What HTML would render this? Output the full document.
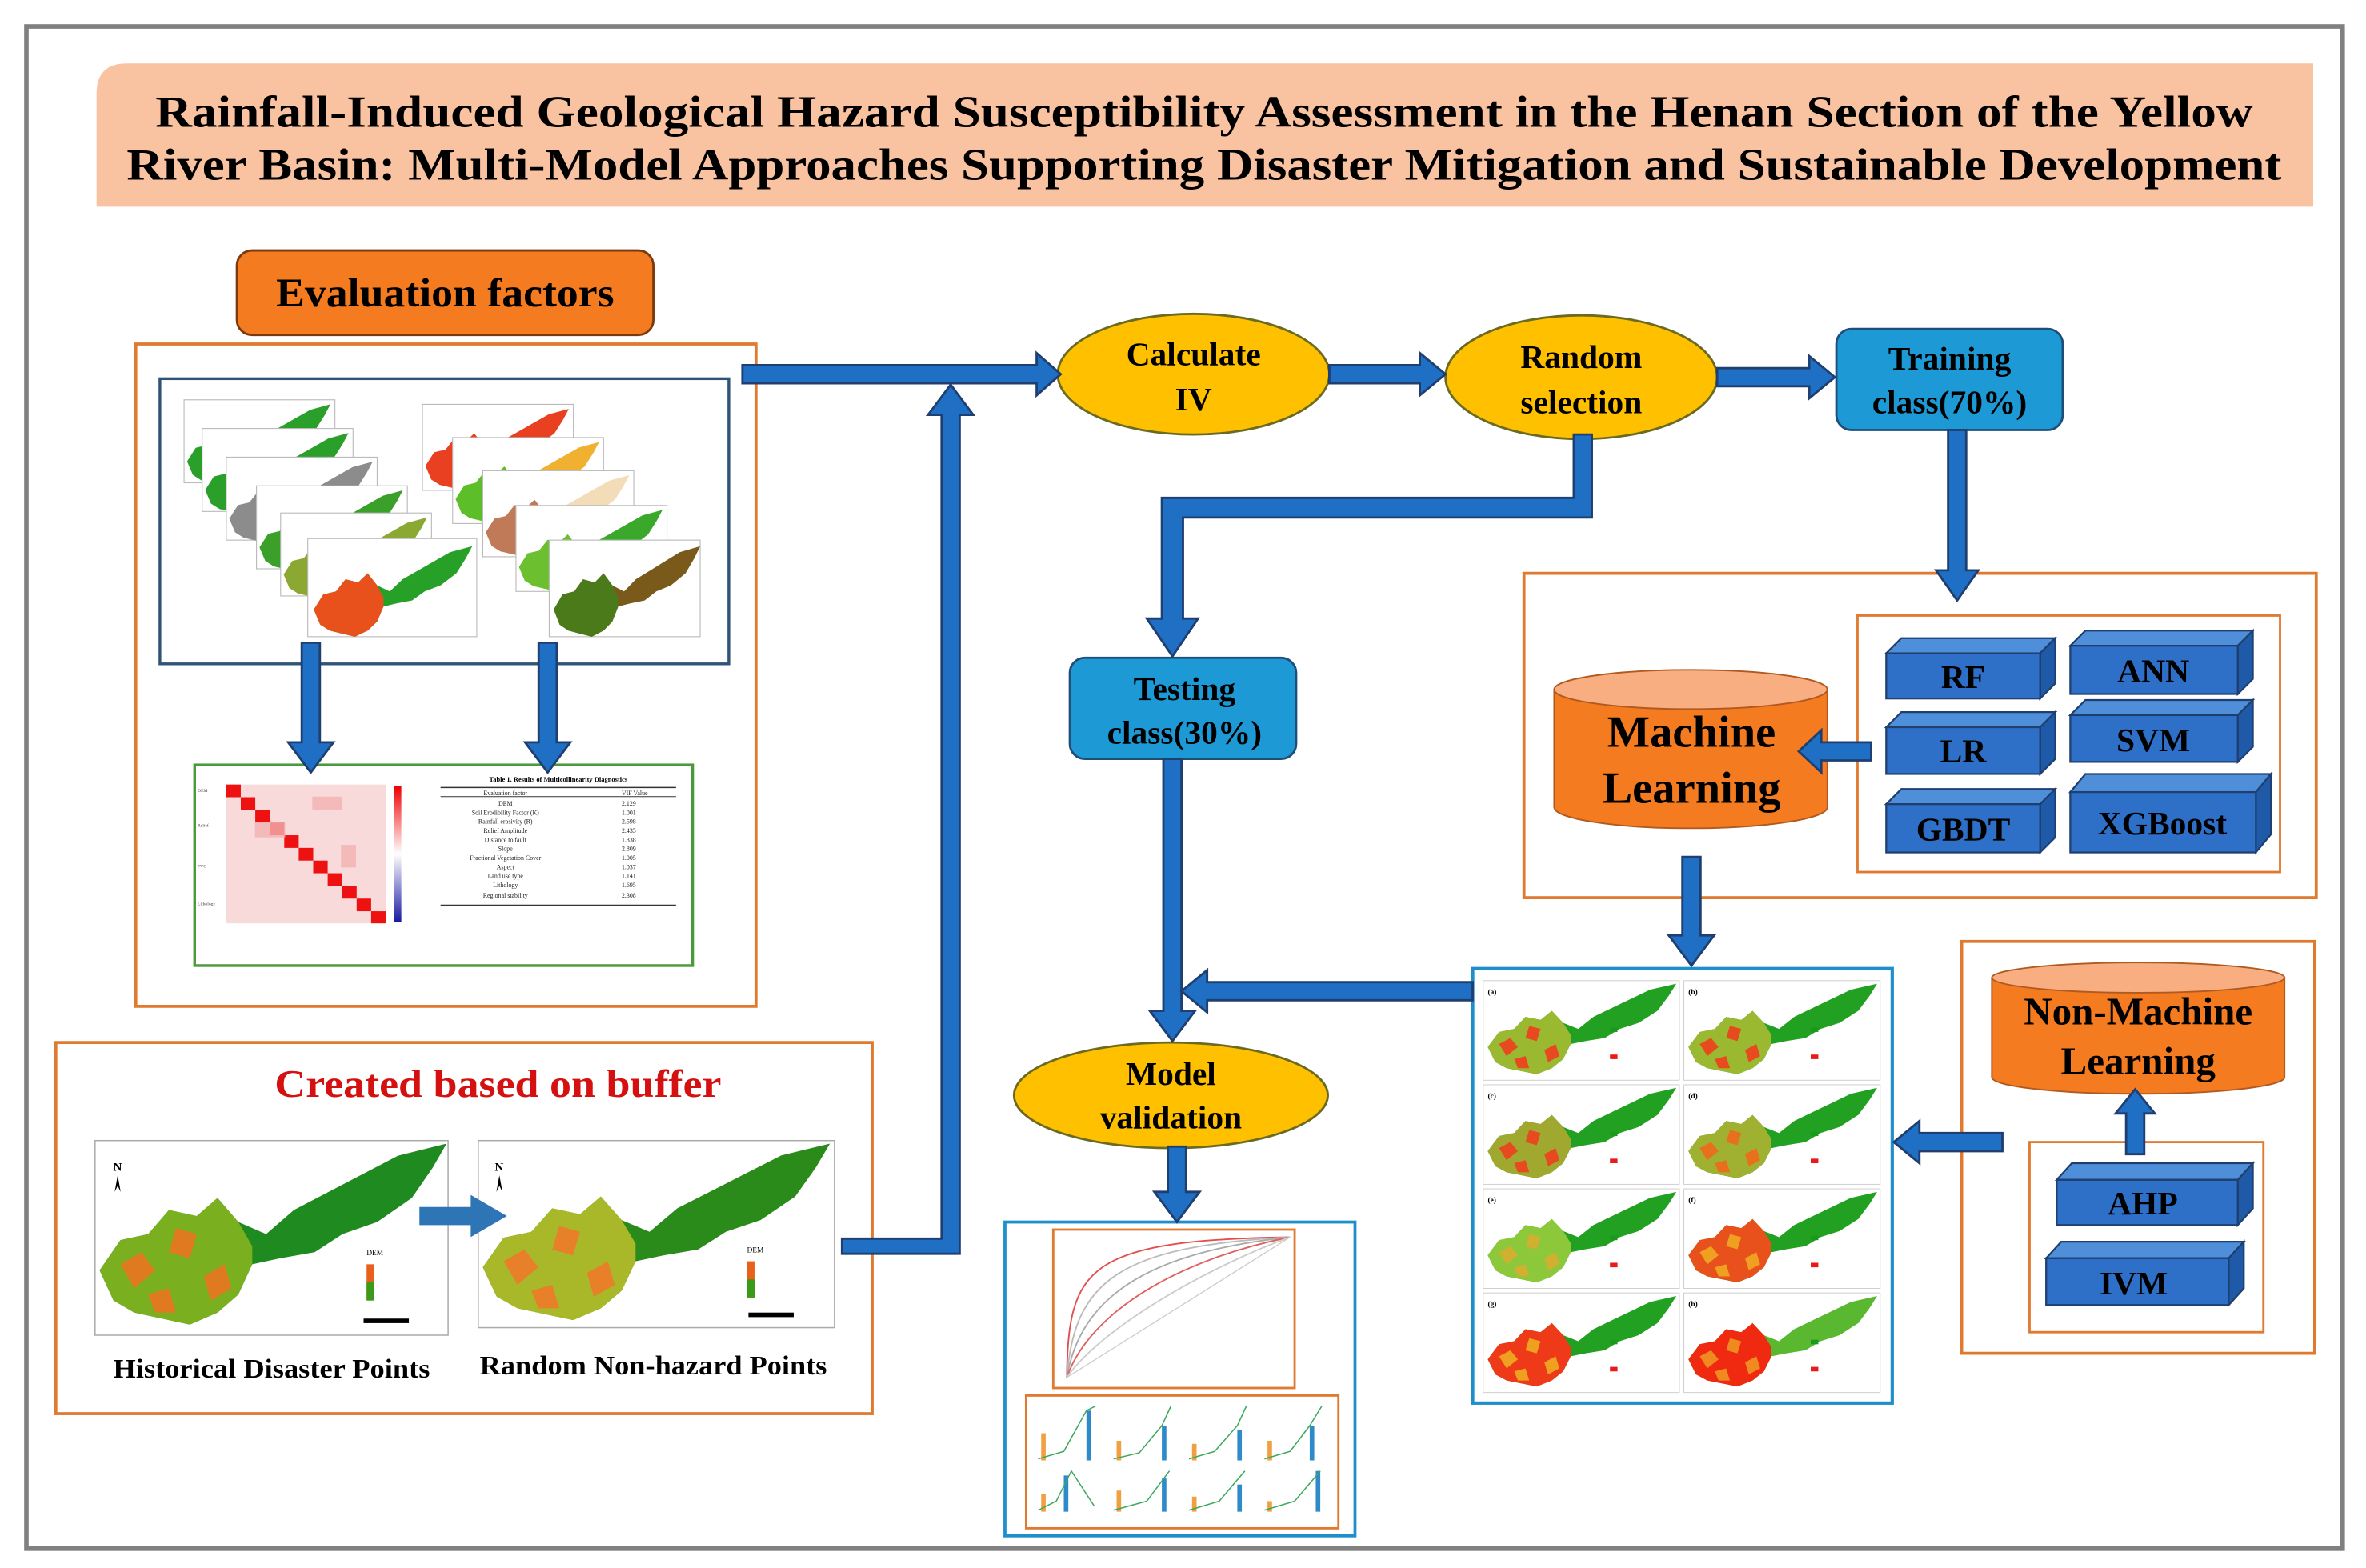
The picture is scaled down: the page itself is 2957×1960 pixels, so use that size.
<!DOCTYPE html>
<html><head><meta charset="utf-8"><style>html,body{margin:0;padding:0;background:#fff}svg{display:block}</style></head>
<body>
<svg width="2957" height="1960" viewBox="0 0 1568 1039.3" xmlns="http://www.w3.org/2000/svg" font-family="Liberation Serif, serif" font-weight="bold">
<defs>
<path id="basin" d="M0,42 L6,32 L14,30 L20,22 L28,24 L34,18 L40,26 L48,30 L56,22 L66,16 L76,10 L86,4 L100,0 L96,8 L90,18 L80,26 L70,30 L62,36 L52,38 L44,40 L40,50 L34,56 L26,60 L18,58 L10,56 L4,52 Z"/>
<path id="west" d="M0,42 L6,32 L14,30 L20,22 L28,24 L34,18 L40,26 L44,34 L44,40 L40,50 L34,56 L26,60 L18,58 L10,56 L4,52 Z"/>
<path id="spots" d="M6,40 L12,36 L16,42 L10,48 Z M22,28 L28,30 L26,38 L20,36 Z M30,44 L36,40 L38,48 L32,52 Z M14,50 L20,48 L22,56 L16,56 Z"/>
<linearGradient id="cb" x1="0" y1="0" x2="0" y2="1"><stop offset="0" stop-color="#e00"/><stop offset="0.5" stop-color="#fff"/><stop offset="1" stop-color="#1a1aa0"/></linearGradient>
</defs>
<rect x="0" y="0" width="1568" height="1039.3" fill="#fff"/>
<rect x="17.5" y="17.5" width="1535" height="1009" fill="none" stroke="#808080" stroke-width="3"/>
<path d="M84,42 L1533,42 L1533,137 L64,137 L64,62 Q64,42 84,42 Z" fill="#F9C3A2"/>
<text x="798" y="84" font-size="30" text-anchor="middle" textLength="1390" lengthAdjust="spacingAndGlyphs">Rainfall-Induced Geological Hazard Susceptibility Assessment in the Henan Section of the Yellow</text>
<text x="798" y="119" font-size="30" text-anchor="middle" textLength="1428" lengthAdjust="spacingAndGlyphs">River Basin: Multi-Model Approaches Supporting Disaster Mitigation and Sustainable Development</text>

<rect x="157" y="166" width="276" height="56" rx="10" fill="#F47B20" stroke="#7a3a10" stroke-width="1.5"/>
<text x="295" y="203" font-size="27" text-anchor="middle" textLength="224" lengthAdjust="spacingAndGlyphs">Evaluation factors</text>
<rect x="90" y="228" width="411" height="439" fill="none" stroke="#E07A30" stroke-width="2"/>
<rect x="106" y="251" width="377" height="189" fill="none" stroke="#2F5478" stroke-width="1.8"/>

<g stroke="#bbb" stroke-width="0.6">
<rect x="122" y="265" width="100" height="55" fill="#fff"/><use href="#basin" transform="translate(124,268) scale(0.95,0.9)" fill="#2aa02a" stroke="none"/>
<rect x="134" y="284" width="100" height="55" fill="#fff"/><use href="#basin" transform="translate(136,287) scale(0.95,0.9)" fill="#2aa02a" stroke="none"/>
<rect x="150" y="303" width="100" height="55" fill="#fff"/><use href="#basin" transform="translate(152,306) scale(0.95,0.9)" fill="#8c8c8c" stroke="none"/>
<rect x="170" y="322" width="100" height="55" fill="#fff"/><use href="#basin" transform="translate(172,325) scale(0.95,0.9)" fill="#3aa02a" stroke="none"/>
<rect x="186" y="340" width="100" height="55" fill="#fff"/><use href="#basin" transform="translate(188,343) scale(0.95,0.9)" fill="#8aa832" stroke="none"/>
<rect x="204" y="357" width="112" height="65" fill="#fff"/><use href="#basin" transform="translate(208,362) scale(1.05,1.0)" fill="#27a027" stroke="none"/><use href="#west" transform="translate(208,362) scale(1.05,1.0)" fill="#e8501c" stroke="none"/>
</g>
<g stroke="#bbb" stroke-width="0.6">
<rect x="280" y="268" width="100" height="57" fill="#fff"/><use href="#basin" transform="translate(282,271) scale(0.95,0.9)" fill="#e84020" stroke="none"/>
<rect x="300" y="290" width="100" height="57" fill="#fff"/><use href="#basin" transform="translate(302,293) scale(0.95,0.9)" fill="#f0b030" stroke="none"/><use href="#west" transform="translate(302,293) scale(0.95,0.9)" fill="#5cbf2a" stroke="none"/>
<rect x="320" y="312" width="100" height="57" fill="#fff"/><use href="#basin" transform="translate(322,315) scale(0.95,0.9)" fill="#f3dcb8" stroke="none"/><use href="#west" transform="translate(322,315) scale(0.95,0.9)" fill="#c07a58" stroke="none"/>
<rect x="342" y="335" width="100" height="57" fill="#fff"/><use href="#basin" transform="translate(344,338) scale(0.95,0.9)" fill="#3aa82a" stroke="none"/><use href="#west" transform="translate(344,338) scale(0.95,0.9)" fill="#6cc030" stroke="none"/>
<rect x="364" y="358" width="100" height="64" fill="#fff"/><use href="#basin" transform="translate(367,362) scale(0.97,1.0)" fill="#7a5a1a" stroke="none"/><use href="#west" transform="translate(367,362) scale(0.97,1.0)" fill="#4a7a1a" stroke="none"/>
</g>

<rect x="129" y="507" width="330" height="133" fill="none" stroke="#4a9a3a" stroke-width="1.8"/>
<g>
<rect x="150" y="520" width="106" height="92" fill="#f8dada"/>
<g fill="#ee1111">
<rect x="150" y="520" width="9.6" height="8.4"/><rect x="159.6" y="528.4" width="9.6" height="8.4"/><rect x="169.2" y="536.8" width="9.6" height="8.4"/><rect x="178.8" y="545.2" width="9.6" height="8.4"/><rect x="188.4" y="553.6" width="9.6" height="8.4"/><rect x="198" y="562" width="9.6" height="8.4"/><rect x="207.6" y="570.4" width="9.6" height="8.4"/><rect x="217.2" y="578.8" width="9.6" height="8.4"/><rect x="226.8" y="587.2" width="9.6" height="8.4"/><rect x="236.4" y="595.6" width="9.6" height="8.4"/><rect x="246" y="604" width="10" height="8"/>
</g>
<g fill="#f2b0b0" opacity="0.8"><rect x="169" y="545" width="20" height="10"/><rect x="207" y="528" width="20" height="9"/><rect x="226" y="560" width="10" height="15"/></g>
<rect x="261" y="521" width="5" height="90" fill="url(#cb)"/>
<g font-size="3" font-weight="normal" fill="#444">
<text x="131" y="525">DEM</text><text x="131" y="548">Relief</text><text x="131" y="575">FVC</text><text x="131" y="600">Lithology</text>
</g>
</g>
<g>
<text x="370" y="518" font-size="4.5" text-anchor="middle">Table 1. Results of Multicollinearity Diagnostics</text>
<line x1="292" y1="522" x2="448" y2="522" stroke="#333" stroke-width="0.8"/>
<line x1="292" y1="528" x2="448" y2="528" stroke="#333" stroke-width="0.5"/>
<line x1="292" y1="600" x2="448" y2="600" stroke="#333" stroke-width="0.8"/>
<g font-size="4.2" font-weight="normal" fill="#222">
<text x="335" y="527" text-anchor="middle">Evaluation factor</text><text x="412" y="527">VIF Value</text>
<text x="335" y="534" text-anchor="middle">DEM</text><text x="412" y="534">2.129</text>
<text x="335" y="540" text-anchor="middle">Soil Erodibility Factor (K)</text><text x="412" y="540">1.001</text>
<text x="335" y="546" text-anchor="middle">Rainfall erosivity (R)</text><text x="412" y="546">2.598</text>
<text x="335" y="552" text-anchor="middle">Relief Amplitude</text><text x="412" y="552">2.435</text>
<text x="335" y="558" text-anchor="middle">Distance to fault</text><text x="412" y="558">1.338</text>
<text x="335" y="564" text-anchor="middle">Slope</text><text x="412" y="564">2.809</text>
<text x="335" y="570" text-anchor="middle">Fractional Vegetation Cover</text><text x="412" y="570">1.005</text>
<text x="335" y="576" text-anchor="middle">Aspect</text><text x="412" y="576">1.037</text>
<text x="335" y="582" text-anchor="middle">Land use type</text><text x="412" y="582">1.141</text>
<text x="335" y="588" text-anchor="middle">Lithology</text><text x="412" y="588">1.695</text>
<text x="335" y="595" text-anchor="middle">Regional stability</text><text x="412" y="595">2.308</text>
</g>
</g>

<rect x="37" y="691" width="541" height="246" fill="none" stroke="#E07A30" stroke-width="2"/>
<text x="330" y="727" font-size="26" fill="#D41010" text-anchor="middle" textLength="296" lengthAdjust="spacingAndGlyphs">Created based on buffer</text>
<rect x="63" y="756" width="234" height="129" fill="#fff" stroke="#aaa" stroke-width="0.8"/>
<use href="#basin" transform="translate(66,758) scale(2.3,2.0)" fill="#1f8a1f"/>
<use href="#west" transform="translate(66,758) scale(2.3,2.0)" fill="#7ab020"/>
<use href="#spots" transform="translate(66,758) scale(2.3,2.0)" fill="#e07a20"/>
<text x="75" y="776" font-size="8">N</text><path d="M76,790 L78,779 L80,790 L78,786 Z" fill="#000"/>
<rect x="317" y="756" width="236" height="124" fill="#fff" stroke="#aaa" stroke-width="0.8"/>
<use href="#basin" transform="translate(320,758) scale(2.3,1.95)" fill="#2a8a1a"/>
<use href="#west" transform="translate(320,758) scale(2.3,1.95)" fill="#a8b828"/>
<use href="#spots" transform="translate(320,758) scale(2.3,1.95)" fill="#e8802a"/>
<text x="328" y="776" font-size="8">N</text><path d="M329,790 L331,779 L333,790 L331,786 Z" fill="#000"/>
<g font-size="5" font-weight="normal"><text x="243" y="832">DEM</text><text x="495" y="830">DEM</text></g>
<rect x="243" y="838" width="5" height="24" fill="#e8601c"/><rect x="243" y="850" width="5" height="12" fill="#3a9a1a"/>
<rect x="495" y="836" width="5" height="24" fill="#e8601c"/><rect x="495" y="848" width="5" height="12" fill="#3a9a1a"/>
<rect x="241" y="874" width="30" height="3" fill="#000"/><rect x="496" y="870" width="30" height="3" fill="#000"/>
<polygon points="278,800 312,800 312,792 336,806 312,820 312,812 278,812" fill="#2E75B6"/>
<text x="180" y="913" font-size="18" text-anchor="middle" textLength="210" lengthAdjust="spacingAndGlyphs">Historical Disaster Points</text>
<text x="433" y="911" font-size="18" text-anchor="middle" textLength="230" lengthAdjust="spacingAndGlyphs">Random Non-hazard Points</text>

<ellipse cx="791" cy="248" rx="90" ry="40" fill="#FFC000" stroke="#6a6a20" stroke-width="1.5"/>
<text x="791" y="242" font-size="22" text-anchor="middle">Calculate</text>
<text x="791" y="272" font-size="22" text-anchor="middle">IV</text>
<ellipse cx="1048" cy="250" rx="90" ry="41" fill="#FFC000" stroke="#6a6a20" stroke-width="1.5"/>
<text x="1048" y="244" font-size="22" text-anchor="middle">Random</text>
<text x="1048" y="274" font-size="22" text-anchor="middle">selection</text>
<ellipse cx="776" cy="726" rx="104" ry="35" fill="#FFC000" stroke="#6a6a20" stroke-width="1.5"/>
<text x="776" y="719" font-size="22" text-anchor="middle">Model</text>
<text x="776" y="748" font-size="22" text-anchor="middle">validation</text>

<rect x="1217" y="218" width="150" height="67" rx="10" fill="#1D9AD6" stroke="#1F4E79" stroke-width="1.5"/>
<text x="1292" y="245" font-size="22" text-anchor="middle">Training</text>
<text x="1292" y="274" font-size="22" text-anchor="middle">class(70%)</text>
<rect x="709" y="436" width="150" height="67" rx="10" fill="#1D9AD6" stroke="#1F4E79" stroke-width="1.5"/>
<text x="785" y="464" font-size="22" text-anchor="middle">Testing</text>
<text x="785" y="493" font-size="22" text-anchor="middle">class(30%)</text>

<rect x="1010" y="380" width="525" height="215" fill="none" stroke="#E07A30" stroke-width="2"/>
<rect x="1231" y="408" width="280" height="170" fill="none" stroke="#E07A30" stroke-width="1.5"/>
<path d="M1030,457 L1030,535 A90.5,14 0 0 0 1211,535 L1211,457 Z" fill="#F47B20" stroke="#b05a20" stroke-width="1"/>
<ellipse cx="1120.5" cy="457" rx="90.5" ry="13" fill="#F8AE80" stroke="#b05a20" stroke-width="1"/>
<text x="1121" y="495" font-size="30" text-anchor="middle">Machine</text>
<text x="1121" y="532" font-size="30" text-anchor="middle">Learning</text>

<g stroke="#1F3F70" stroke-width="1.2">
<polygon points="1250,433 1260,423 1362,423 1352,433" fill="#4F8ED8"/><polygon points="1352,433 1362,423 1362,453 1352,463" fill="#1F5AA8"/><rect x="1250" y="433" width="102" height="30" fill="#2E6FC8"/>
<polygon points="1372,428 1382,418 1493,418 1483,428" fill="#4F8ED8"/><polygon points="1483,428 1493,418 1493,450 1483,460" fill="#1F5AA8"/><rect x="1372" y="428" width="111" height="32" fill="#2E6FC8"/>
<polygon points="1250,482 1260,472 1362,472 1352,482" fill="#4F8ED8"/><polygon points="1352,482 1362,472 1362,503 1352,513" fill="#1F5AA8"/><rect x="1250" y="482" width="102" height="31" fill="#2E6FC8"/>
<polygon points="1372,474 1382,464 1493,464 1483,474" fill="#4F8ED8"/><polygon points="1483,474 1493,464 1493,495 1483,505" fill="#1F5AA8"/><rect x="1372" y="474" width="111" height="31" fill="#2E6FC8"/>
<polygon points="1250,533 1260,523 1362,523 1352,533" fill="#4F8ED8"/><polygon points="1352,533 1362,523 1362,555 1352,565" fill="#1F5AA8"/><rect x="1250" y="533" width="102" height="32" fill="#2E6FC8"/>
<polygon points="1372,525 1382,513 1505,513 1495,525" fill="#4F8ED8"/><polygon points="1495,525 1505,513 1505,553 1495,565" fill="#1F5AA8"/><rect x="1372" y="525" width="123" height="40" fill="#2E6FC8"/>
</g>
<g font-size="22" text-anchor="middle">
<text x="1301" y="456">RF</text><text x="1427" y="452">ANN</text><text x="1301" y="505">LR</text><text x="1427" y="498">SVM</text><text x="1301" y="557">GBDT</text><text x="1433" y="553">XGBoost</text>
</g>

<rect x="976" y="642" width="278" height="288" fill="#fff" stroke="#1F8FCB" stroke-width="2.2"/>
<g>
<g stroke="#ccc" stroke-width="0.5" fill="#fff">
<rect x="983" y="650" width="130" height="66"/><rect x="1116" y="650" width="130" height="66"/>
<rect x="983" y="719" width="130" height="66"/><rect x="1116" y="719" width="130" height="66"/>
<rect x="983" y="788" width="130" height="66"/><rect x="1116" y="788" width="130" height="66"/>
<rect x="983" y="857" width="130" height="66"/><rect x="1116" y="857" width="130" height="66"/>
</g>
<g>
<use href="#basin" transform="translate(986,652) scale(1.25,1.0)" fill="#22a022"/><use href="#west" transform="translate(986,652) scale(1.25,1.0)" fill="#9ab830"/><use href="#spots" transform="translate(986,652) scale(1.25,1.0)" fill="#e84a20"/>
<use href="#basin" transform="translate(1119,652) scale(1.25,1.0)" fill="#22a022"/><use href="#west" transform="translate(1119,652) scale(1.25,1.0)" fill="#9ab830"/><use href="#spots" transform="translate(1119,652) scale(1.25,1.0)" fill="#e84a20"/>
<use href="#basin" transform="translate(986,721) scale(1.25,1.0)" fill="#22a022"/><use href="#west" transform="translate(986,721) scale(1.25,1.0)" fill="#a0a830"/><use href="#spots" transform="translate(986,721) scale(1.25,1.0)" fill="#e84a20"/>
<use href="#basin" transform="translate(1119,721) scale(1.25,1.0)" fill="#22a022"/><use href="#west" transform="translate(1119,721) scale(1.25,1.0)" fill="#a0b030"/><use href="#spots" transform="translate(1119,721) scale(1.25,1.0)" fill="#e8701c"/>
<use href="#basin" transform="translate(986,790) scale(1.25,1.0)" fill="#22a022"/><use href="#west" transform="translate(986,790) scale(1.25,1.0)" fill="#8cc83a"/><use href="#spots" transform="translate(986,790) scale(1.25,1.0)" fill="#d0b030"/>
<use href="#basin" transform="translate(1119,790) scale(1.25,1.0)" fill="#22a022"/><use href="#west" transform="translate(1119,790) scale(1.25,1.0)" fill="#e8501c"/><use href="#spots" transform="translate(1119,790) scale(1.25,1.0)" fill="#f0a020"/>
<use href="#basin" transform="translate(986,859) scale(1.25,1.0)" fill="#22a022"/><use href="#west" transform="translate(986,859) scale(1.25,1.0)" fill="#ee3a18"/><use href="#spots" transform="translate(986,859) scale(1.25,1.0)" fill="#f0a020"/>
<use href="#basin" transform="translate(1119,859) scale(1.25,1.0)" fill="#5ab830"/><use href="#west" transform="translate(1119,859) scale(1.25,1.0)" fill="#f02a10"/><use href="#spots" transform="translate(1119,859) scale(1.25,1.0)" fill="#f08a20"/>
</g>
<g fill="#1a9a1a"><rect x="1067" y="681" width="5" height="3"/><rect x="1200" y="681" width="5" height="3"/><rect x="1067" y="750" width="5" height="3"/><rect x="1200" y="750" width="5" height="3"/><rect x="1067" y="819" width="5" height="3"/><rect x="1200" y="819" width="5" height="3"/><rect x="1067" y="888" width="5" height="3"/><rect x="1200" y="888" width="5" height="3"/></g>
<g fill="#e81a1a"><rect x="1067" y="699" width="5" height="3"/><rect x="1200" y="699" width="5" height="3"/><rect x="1067" y="768" width="5" height="3"/><rect x="1200" y="768" width="5" height="3"/><rect x="1067" y="837" width="5" height="3"/><rect x="1200" y="837" width="5" height="3"/><rect x="1067" y="906" width="5" height="3"/><rect x="1200" y="906" width="5" height="3"/></g>
<g font-size="5"><text x="986" y="659">(a)</text><text x="1119" y="659">(b)</text><text x="986" y="728">(c)</text><text x="1119" y="728">(d)</text><text x="986" y="797">(e)</text><text x="1119" y="797">(f)</text><text x="986" y="866">(g)</text><text x="1119" y="866">(h)</text></g>
</g>

<rect x="1300" y="624" width="234" height="273" fill="none" stroke="#E07A30" stroke-width="2"/>
<path d="M1320,648 L1320,714 A97,11 0 0 0 1514,714 L1514,648 Z" fill="#F47B20" stroke="#b05a20" stroke-width="1"/>
<ellipse cx="1417" cy="648" rx="97" ry="10" fill="#F8AE80" stroke="#b05a20" stroke-width="1"/>
<text x="1417" y="679" font-size="26" text-anchor="middle">Non-Machine</text>
<text x="1417" y="712" font-size="26" text-anchor="middle">Learning</text>
<rect x="1345" y="757" width="155" height="126" fill="none" stroke="#E07A30" stroke-width="1.5"/>
<g stroke="#1F3F70" stroke-width="1.2">
<polygon points="1363,782 1373,771 1493,771 1483,782" fill="#4F8ED8"/><polygon points="1483,782 1493,771 1493,801 1483,812" fill="#1F5AA8"/><rect x="1363" y="782" width="120" height="30" fill="#2E6FC8"/>
<polygon points="1356,834 1366,823 1487,823 1477,834" fill="#4F8ED8"/><polygon points="1477,834 1487,823 1487,854 1477,865" fill="#1F5AA8"/><rect x="1356" y="834" width="121" height="31" fill="#2E6FC8"/>
</g>
<text x="1420" y="805" font-size="22" text-anchor="middle">AHP</text>
<text x="1414" y="858" font-size="22" text-anchor="middle">IVM</text>

<rect x="666" y="810" width="232" height="208" fill="#fff" stroke="#1F8FCB" stroke-width="2"/>
<rect x="698" y="815" width="160" height="105" fill="#fff" stroke="#E07A30" stroke-width="1.5"/>
<line x1="707" y1="913" x2="855" y2="820" stroke="#ccc" stroke-width="0.7"/>
<g fill="none" stroke-width="1">
<path d="M707,913 C708,840 720,822 855,820" stroke="#e05050"/>
<path d="M707,913 C712,850 740,826 855,820" stroke="#bbb"/>
<path d="M707,913 C716,860 760,830 855,820" stroke="#aaa"/>
<path d="M707,913 C722,870 780,835 855,820" stroke="#e06060"/>
<path d="M707,913 C730,880 800,840 855,820" stroke="#ccc"/>
</g>
<rect x="680" y="925" width="207" height="88" fill="#fff" stroke="#E07A30" stroke-width="1.5"/>
<g stroke-width="0.8">
<g fill="#f0a040"><rect x="690" y="950" width="3" height="18"/><rect x="740" y="955" width="3" height="13"/><rect x="790" y="957" width="3" height="11"/><rect x="840" y="955" width="3" height="13"/><rect x="690" y="990" width="3" height="12"/><rect x="740" y="988" width="3" height="14"/><rect x="790" y="992" width="3" height="10"/><rect x="840" y="995" width="3" height="7"/></g>
<g fill="#2e8ac8"><rect x="720" y="935" width="3" height="33"/><rect x="770" y="945" width="3" height="23"/><rect x="820" y="948" width="3" height="20"/><rect x="868" y="945" width="3" height="23"/><rect x="705" y="978" width="3" height="24"/><rect x="770" y="980" width="3" height="22"/><rect x="820" y="984" width="3" height="18"/><rect x="872" y="975" width="3" height="27"/></g>
<g fill="none" stroke="#3aa85a"><path d="M688,967 L705,962 L720,935 L726,932"/><path d="M738,967 L755,963 L770,945 L776,932"/><path d="M788,967 L805,962 L820,945 L826,932"/><path d="M838,967 L855,962 L868,945 L876,932"/><path d="M688,1001 L700,995 L710,975 L725,998"/><path d="M738,1001 L760,995 L775,975"/><path d="M788,1001 L808,995 L825,975"/><path d="M838,1001 L858,995 L875,975"/></g>
</g>

<!-- arrows on top -->
<g fill="#1F6FC5" stroke="#1F3F70" stroke-width="1.5">
<polygon points="492,242 687,242 687,234 703,248 687,262 687,254 492,254"/>
<polygon points="881,242 941,242 941,234 958,248 941,262 941,254 881,254"/>
<polygon points="1138,244 1199,244 1199,236 1216,250 1199,264 1199,256 1138,256"/>
<polygon points="1291,285 1303,285 1303,378 1311,378 1297,398 1283,378 1291,378"/>
<polygon points="1055,288 1055,343 784,343 784,410 794,410 777,435 760,410 770,410 770,330 1043,330 1043,288"/>
<polygon points="771,503 783,503 783,670 792,670 777,690 762,670 771,670"/>
<polygon points="976,651 976,663 800,663 800,671 783,657 800,643 800,651"/>
<polygon points="558,821 624,821 624,275 615,275 630,255 645,275 636,275 636,831 558,831"/>
<polygon points="1115,568 1127,568 1127,620 1136,620 1121,640 1106,620 1115,620"/>
<polygon points="1240,492 1240,504 1207,504 1207,512 1192,498 1207,484 1207,492"/>
<polygon points="1409,765 1421,765 1421,738 1428,738 1415,722 1402,738 1409,738"/>
<polygon points="1327,751 1327,763 1272,763 1272,771 1255,757 1272,743 1272,751"/>
<polygon points="774,760 786,760 786,790 795,790 780,810 765,790 774,790"/>
<polygon points="200,426 212,426 212,492 221,492 206,512 191,492 200,492"/>
<polygon points="357,426 369,426 369,492 378,492 363,512 348,492 357,492"/>
</g>
</svg>
</body></html>
